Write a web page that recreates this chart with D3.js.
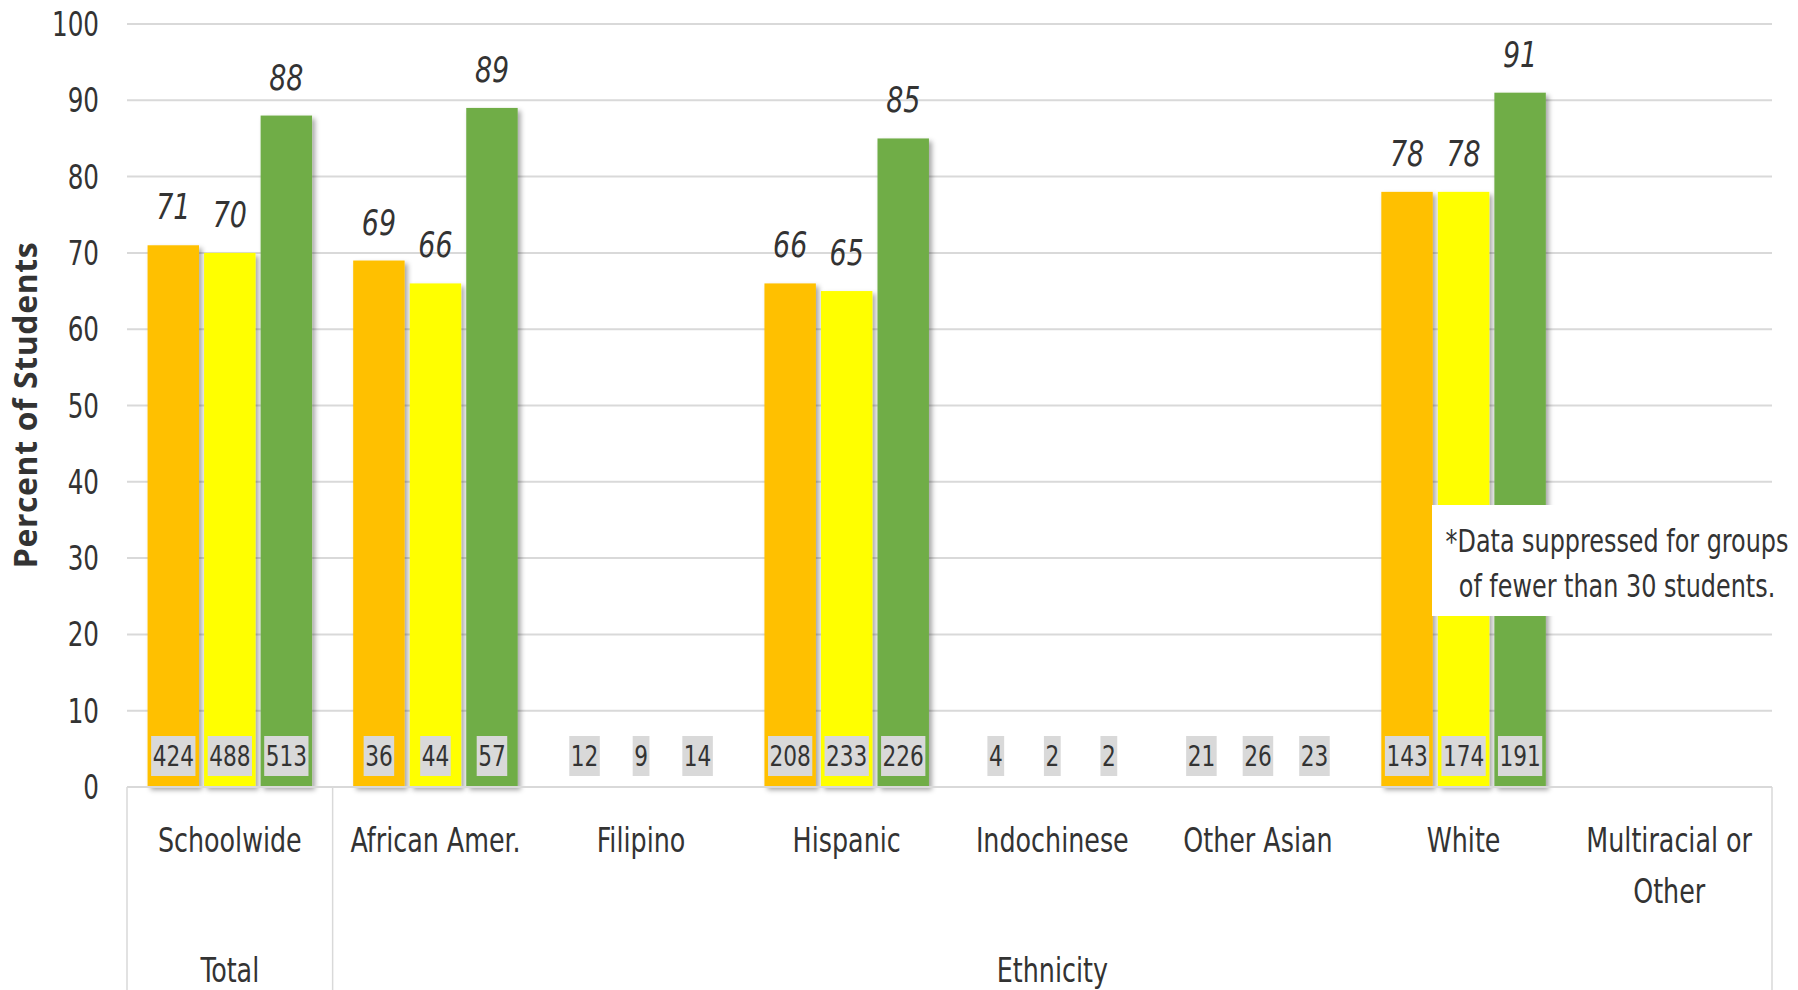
<!DOCTYPE html>
<html>
<head>
    <meta charset="utf-8">
    <title>Percent of Students by Group</title>
    <script src="https://cdnjs.cloudflare.com/ajax/libs/d3/7.8.5/d3.min.js"></script>
    <style>
        html, body { margin: 0; padding: 0; background: #fff; }
        svg { display: block; }
        .narrow { font-family: "DejaVu Sans Condensed", "DejaVu Sans", sans-serif; fill: #333; }
    </style>
</head>
<body>
    <div id="chart"></div>
    <script>
        // categories and series
        const categories = ["Schoolwide", "African Amer.", "Filipino", "Hispanic", "Indochinese", "Other Asian", "White", "Multiracial or Other"];
        const groups = [
            { name: "Total", from: 0, to: 0 },
            { name: "Ethnicity", from: 1, to: 7 }
        ];
        const series = ["s1", "s2", "s3"];
        const colors = ["#FFC000", "#FFFF00", "#70AD47"];

        // percent values (null = suppressed)
        const values1 = [71, 69, null, 66, null, null, 78, null];
        const values2 = [70, 66, null, 65, null, null, 78, null];
        const values3 = [88, 89, null, 85, null, null, 91, null];

        // number of students (null = no label)
        const counts1 = [424, 36, 12, 208, 4, 21, 143, null];
        const counts2 = [488, 44, 9, 233, 2, 26, 174, null];
        const counts3 = [513, 57, 14, 226, 2, 23, 191, null];

        const yTicks = [0, 10, 20, 30, 40, 50, 60, 70, 80, 90, 100];
        const note = ["*Data suppressed for groups", "of fewer than 30 students."];

        const allValues = [values1, values2, values3];
        const allCounts = [counts1, counts2, counts3];

        const width = 1798, height = 990;
        const plotLeft = 127, plotRight = 1772, plotBottom = 787, plotTop = 24;
        const squeeze = 0.83; // the source font is very narrow

        const place = (x, y) => `translate(${x},${y}) scale(${squeeze},1)`;

        const svg = d3.select("#chart")
            .append("svg")
            .attr("width", width)
            .attr("height", height);

        const defs = svg.append("defs");
        defs.append("filter")
            .attr("id", "shadow")
            .attr("x", "-20%").attr("y", "-5%")
            .attr("width", "150%").attr("height", "110%")
            .append("feDropShadow")
            .attr("dx", 3).attr("dy", 3)
            .attr("stdDeviation", 2.5)
            .attr("flood-color", "#000")
            .attr("flood-opacity", 0.35);

        const y = d3.scaleLinear().domain([0, 100]).range([plotBottom, plotTop]);

        const x0 = d3.scaleBand()
            .domain(categories)
            .range([plotLeft, plotRight])
            .paddingInner(0.2)
            .paddingOuter(0.1);

        const x1 = d3.scaleBand()
            .domain(series)
            .range([0, x0.bandwidth()])
            .paddingInner(0.09);

        // gridlines
        svg.append("g")
            .selectAll("line")
            .data(yTicks.slice(1))
            .join("line")
            .attr("x1", plotLeft).attr("x2", plotRight)
            .attr("y1", d => y(d)).attr("y2", d => y(d))
            .attr("stroke", "#d9d9d9")
            .attr("stroke-width", 2);

        // y tick labels
        svg.append("g")
            .selectAll("text")
            .data(yTicks)
            .join("text")
            .attr("class", "narrow")
            .attr("transform", d => place(99, y(d) + 12))
            .attr("text-anchor", "end")
            .attr("font-size", 33)
            .text(d => d);

        // y title
        svg.append("text")
            .attr("transform", "translate(37,405) rotate(-90)")
            .attr("text-anchor", "middle")
            .attr("font-family", "'Open Sans', sans-serif")
            .attr("font-weight", "bold")
            .attr("font-size", 32)
            .attr("letter-spacing", 0.6)
            .attr("fill", "#333")
            .text("Percent of Students");

        // bars
        const rows = categories.map((c, i) => ({
            cat: c,
            items: series.map((s, j) => ({ s, j, v: allValues[j][i], n: allCounts[j][i] }))
        }));

        const cat = svg.append("g")
            .selectAll("g")
            .data(rows)
            .join("g")
            .attr("transform", d => `translate(${x0(d.cat)},0)`);

        cat.selectAll("rect")
            .data(d => d.items.filter(e => e.v != null))
            .join("rect")
            .attr("x", d => x1(d.s))
            .attr("width", x1.bandwidth())
            .attr("y", d => y(d.v))
            .attr("height", d => y(0) - y(d.v))
            .attr("fill", d => colors[d.j])
            .attr("filter", "url(#shadow)");

        // value labels
        cat.selectAll("text.val")
            .data(d => d.items.filter(e => e.v != null))
            .join("text")
            .attr("class", "val narrow")
            .attr("transform", d => place(x1(d.s) + x1.bandwidth() / 2, y(d.v) - 26))
            .attr("text-anchor", "middle")
            .attr("font-size", 36)
            .attr("font-style", "italic")
            .text(d => d.v);

        // count labels with grey boxes
        const cnt = cat.selectAll("g.cnt")
            .data(d => d.items.filter(e => e.n != null))
            .join("g")
            .attr("class", "cnt");

        cnt.append("rect")
            .attr("fill", "#d9d9d9");

        cnt.append("text")
            .attr("class", "narrow")
            .attr("transform", d => place(x1(d.s) + x1.bandwidth() / 2, 766))
            .attr("text-anchor", "middle")
            .attr("font-size", 29)
            .text(d => d.n);

        cnt.each(function(d) {
            const g = d3.select(this);
            const w = g.select("text").node().getComputedTextLength() * squeeze;
            g.select("rect")
                .attr("x", x1(d.s) + x1.bandwidth() / 2 - w / 2 - 1.5)
                .attr("width", w + 3)
                .attr("y", 736)
                .attr("height", 40);
        });

        // x axis line and group dividers
        svg.append("line")
            .attr("x1", plotLeft).attr("x2", plotRight)
            .attr("y1", plotBottom).attr("y2", plotBottom)
            .attr("stroke", "#d9d9d9").attr("stroke-width", 2);

        const step = x0.step();
        const dividers = [plotLeft].concat(groups.map(g => plotLeft + (g.to + 1) * step));
        svg.append("g")
            .selectAll("line")
            .data(dividers)
            .join("line")
            .attr("x1", d => d).attr("x2", d => d)
            .attr("y1", plotBottom).attr("y2", height)
            .attr("stroke", "#d9d9d9").attr("stroke-width", 1.5);

        // category labels
        const catLabels = {
            "Multiracial or Other": ["Multiracial or", "Other"]
        };
        svg.append("g")
            .selectAll("text")
            .data(categories)
            .join("text")
            .attr("class", "narrow")
            .attr("text-anchor", "middle")
            .attr("font-size", 34)
            .attr("transform", c => place(x0(c) + x0.bandwidth() / 2, 852))
            .each(function(c) {
                const lines = catLabels[c] || [c];
                d3.select(this).selectAll("tspan")
                    .data(lines)
                    .join("tspan")
                    .attr("x", 0)
                    .attr("dy", (d, i) => i === 0 ? 0 : 51)
                    .text(d => d);
            });

        // group labels
        svg.append("g")
            .selectAll("text")
            .data(groups)
            .join("text")
            .attr("class", "narrow")
            .attr("text-anchor", "middle")
            .attr("font-size", 34)
            .attr("transform", g => place(plotLeft + (g.from + (g.to + 1)) / 2 * step, 982))
            .text(g => g.name);

        // note box
        svg.append("rect")
            .attr("x", 1432).attr("y", 505)
            .attr("width", width - 1432).attr("height", 111)
            .attr("fill", "#fff");

        svg.append("g")
            .selectAll("text")
            .data(note)
            .join("text")
            .attr("class", "narrow")
            .attr("transform", (d, i) => place(1617, 552 + i * 45))
            .attr("text-anchor", "middle")
            .attr("font-size", 32)
            .text(d => d);
    </script>
</body>
</html>
